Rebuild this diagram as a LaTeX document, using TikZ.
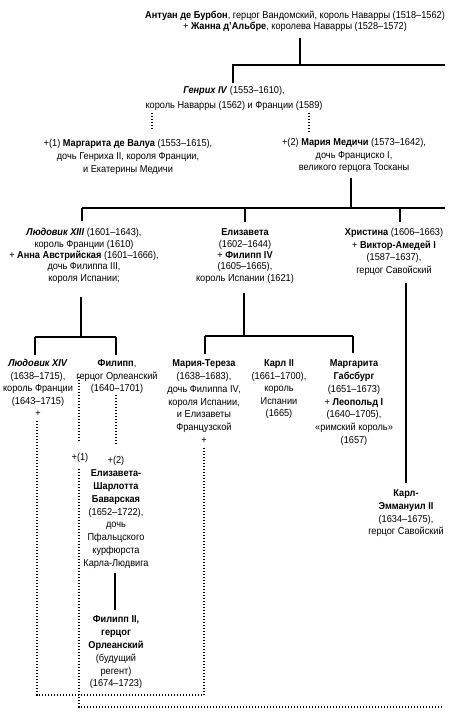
\documentclass[tikz,border=0pt]{standalone}
\usepackage{fontspec}
\setmainfont{Liberation Sans}[FakeStretch=0.92]
\begin{document}
\begin{tikzpicture}[x=1bp,y=-1bp,
  pstyle/.style={align=center,inner sep=0pt,anchor=north,font=\fontsize{10bp}{#1bp}\selectfont},
  link/.style={line width=1.1bp},
  dots/.style={line width=1.2bp,dash pattern=on 1.2bp off 1.8bp}]
\useasboundingbox (0,0) rectangle (472,720);

\node[pstyle=11] (antoine) at (295,10.9) {\strut\textbf{Антуан де Бурбон}, герцог Вандомский, король Наварры (1518–1562)\\+ \textbf{Жанна д'Альбре}, королева Наварры (1528–1572)};
\node[pstyle=15] (henri) at (234,83.1) {\strut\textbf{\textit{Генрих IV}} (1553–1610),\\король Наварры (1562) и Франции (1589)};
\node[pstyle=13] (marg) at (128,137.5) {\strut+(1) \textbf{Маргарита де Валуа} (1553–1615),\\дочь Генриха II, короля Франции,\\и Екатерины Медичи};
\node[pstyle=12.5] (marie) at (354,136.85) {\strut+(2) \textbf{Мария Медичи} (1573–1642),\\дочь Франциско I,\\великого герцога Тосканы};
\node[pstyle=11.3] (louis13) at (84,227.7) {\strut\textbf{\textit{Людовик XIII}} (1601–1643),\\король Франции (1610)\\+ \textbf{Анна Австрийская} (1601–1666),\\дочь Филиппа III,\\короля Испании;};
\node[pstyle=11.3] (elis) at (245,227.7) {\strut\textbf{Елизавета}\\(1602–1644)\\+ \textbf{Филипп IV}\\(1605–1665),\\король Испании (1621)};
\node[pstyle=12.5] (christ) at (394,226.85) {\strut\textbf{Христина} (1606–1663)\\+ \textbf{Виктор-Амедей I}\\(1587–1637),\\герцог Савойский};
\node[pstyle=12.5] (louis14) at (38,357.85) {\strut\textbf{\textit{Людовик XIV}}\\(1638–1715),\\король Франции\\(1643–1715)\\+};
\node[pstyle=12.5] (phil) at (117,357.85) {\strut\textbf{Филипп},\\герцог Орлеанский\\(1640–1701)};
\node[pstyle=12.8] (mt) at (204,357.6) {\strut\textbf{Мария-Тереза}\\(1638–1683),\\дочь Филиппа IV,\\короля Испании,\\и Елизаветы\\Французской\\+};
\node[pstyle=12.5] (carl) at (279,357.85) {\strut\textbf{Карл II}\\(1661–1700),\\король\\Испании\\(1665)};
\node[pstyle=12.8] (margh) at (354,357.6) {\strut\textbf{Маргарита}\\\textbf{Габсбург}\\(1651–1673)\\+ \textbf{Леопольд I}\\(1640–1705),\\«римский король»\\(1657)};
\node[pstyle=12.7] (ce) at (406,487.7) {\strut\textbf{Карл-}\\\textbf{Эммануил II}\\(1634–1675),\\герцог Савойский};
\node[pstyle=12.8,anchor=base] (m1) at (80,460.6) {+(1)};
\node[pstyle=12.8] (ec) at (116,454.7) {\strut+(2)\\\textbf{Елизавета-}\\\textbf{Шарлотта}\\\textbf{Баварская}\\(1652–1722),\\дочь\\Пфальцского\\курфюрста\\Карла-Людвига};
\node[pstyle=12.8] (p2) at (116,613.7) {\strut\textbf{Филипп II,}\\\textbf{герцог}\\\textbf{Орлеанский}\\(будущий\\регент)\\(1674–1723)};

% solid connectors
\coordinate (a0) at (300,38);
\coordinate (a1) at (300,65);
\coordinate (hL) at (233,65);
\coordinate (hR) at (445,65);
\coordinate (h1) at (233,83);
\draw[link] (a0) -- (a1);
\draw[link] (h1) -- (hL) -- (hR);

\coordinate (m0) at (351,178);
\coordinate (m1j) at (351,208);
\coordinate (cL) at (82,208);
\coordinate (cR) at (445,208);
\coordinate (cM) at (245,208);
\coordinate (cC) at (400,208);
\draw[link] (m0) -- (m1j);
\draw[link] (cL) -- (cR);
\draw[link] (cL) -- ++(0,13);
\draw[link] (cM) -- ++(0,14);
\draw[link] (cC) -- ++(0,14);

\coordinate (l0) at (81,297);
\coordinate (l1) at (81,337);
\coordinate (lL) at (35,337);
\coordinate (lR) at (116,337);
\draw[link] (l0) -- (l1);
\draw[link] (lL) -- (lR);
\draw[link] (lL) -- ++(0,18);
\draw[link] (lR) -- ++(0,18);

\coordinate (e0) at (244,293);
\coordinate (e1) at (244,336);
\coordinate (eL) at (205,336);
\coordinate (eR) at (353,336);
\draw[link] (e0) -- (e1);
\draw[link] (eL) -- (eR);
\draw[link] (eL) -- ++(0,18);
\draw[link] (eR) -- ++(0,17);

\coordinate (k0) at (406,283);
\coordinate (k1) at (406,483);
\draw[link] (k0) -- (k1);

\coordinate (p0) at (115,573);
\coordinate (p1) at (115,610);
\draw[link] (p0) -- (p1);

% dotted connectors
\draw[dots] (152,113) -- (152,131);
\draw[dots] (309,113) -- (309,133);
\coordinate (x0) at (37,421);
\coordinate (x1) at (37,695);
\coordinate (x2) at (204,695);
\coordinate (x3) at (204,447);
\draw[dots] (x0) -- (x1) -- (x2) -- (x3);
\coordinate (y0) at (79,377);
\coordinate (y1) at (79,443);
\coordinate (y2) at (79,469);
\coordinate (y3) at (79,707);
\coordinate (y4) at (443,707);
\draw[dots] (y0) -- (y1);
\draw[dots] (y2) -- (y3) -- (y4);
\coordinate (z0) at (116,395);
\coordinate (z1) at (116,444);
\draw[dots] (z0) -- (z1);
\end{tikzpicture}
\end{document}
